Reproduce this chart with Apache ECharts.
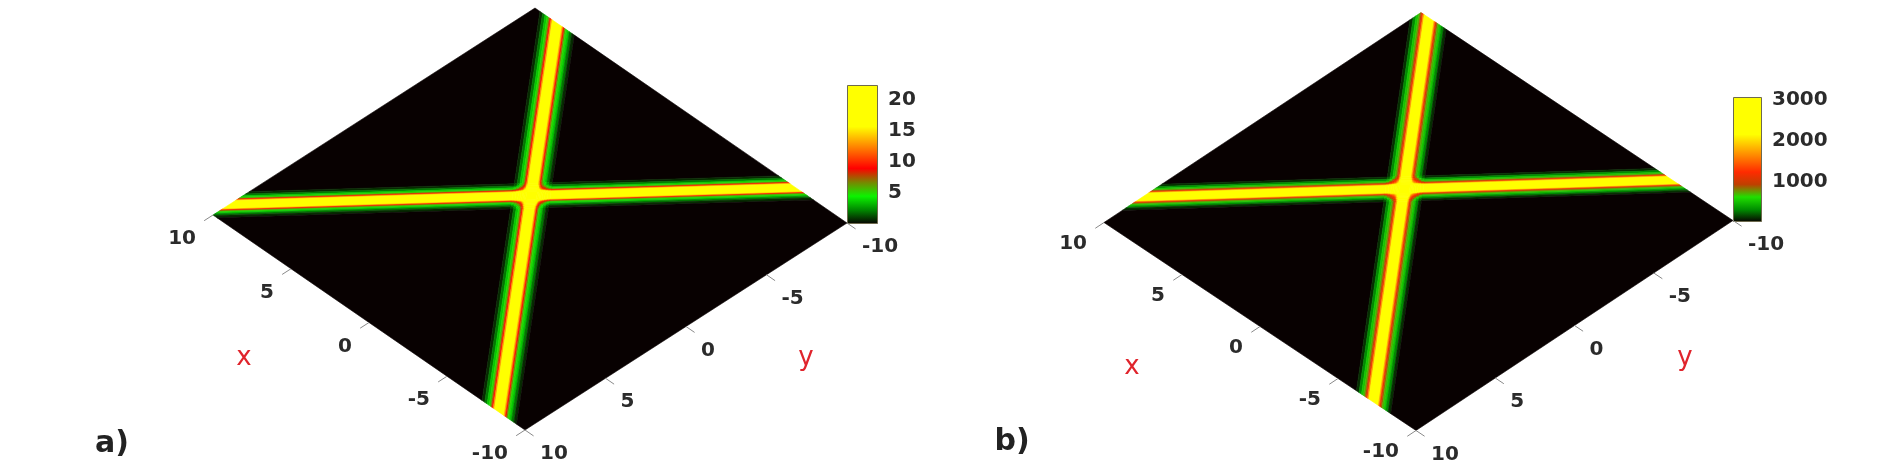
<!DOCTYPE html>
<html>
<head>
<meta charset="utf-8">
<title>Two line intensity maps</title>
<script src="https://cdn.jsdelivr.net/npm/echarts@6/dist/echarts.min.js"></script>
<style>
  html, body { margin: 0; padding: 0; background: #fff; }
  #chart { width: 1883px; height: 471px; filter: blur(0.5px); }
</style>
</head>
<body>
<div id="chart"></div>
<script>
  // tick values of the two slanted axes, same for both panels
  const xTicks = [10, 5, 0, -5, -10]
  const yTicks = [10, 5, 0, -5, -10]

  // colour bar ticks
  const barTicksA = [5, 10, 15, 20]
  const barTicksB = [1000, 2000, 3000]
  const barMaxA = 22.4
  const barMaxB = 3075

  // offsets across each band, in data units
  const columnEdges = [-60, -0.85, -0.72, -0.6, -0.5, -0.42, -0.36, -0.3, -0.24,
    0.24, 0.3, 0.36, 0.42, 0.5, 0.6, 0.72, 0.85, 60]
  const rowEdges = [-60, -0.85, -0.7, -0.58, -0.5, -0.43, -0.38, -0.33, -0.28,
    0.28, 0.33, 0.38, 0.43, 0.5, 0.58, 0.7, 0.85, 60]

  // where the two bands cross and which way they run
  const crossA = [1.07, -1.13]
  const bandOneA = [-0.661, -0.751]
  const bandTwoA = [-0.646, 0.763]
  const crossB = [2.02, -1.1]
  const bandOneB = [-0.676, -0.737]
  const bandTwoB = [-0.642, 0.766]

  // intensity per cell, rows follow the second band offset
  const fieldA = [
    [0, 0.7, 2, 3.6, 5, 6.8, 9.3, 13, 20, 13, 9.3, 6.8, 5, 3.6, 2, 0.7, 0],
    [0.7, 1.4, 2.7, 4.3, 5.7, 7.5, 10, 13.7, 20.7, 13.7, 10, 7.5, 5.7, 4.3, 2.7, 1.4, 0.7],
    [2, 2.7, 4, 5.6, 7, 8.8, 11.3, 15, 22, 15, 11.3, 8.8, 7, 5.6, 4, 2.7, 2],
    [3.6, 4.3, 5.6, 7.2, 8.6, 10.4, 12.9, 16.6, 22, 16.6, 12.9, 10.4, 8.6, 7.2, 5.6, 4.3, 3.6],
    [5, 5.7, 7, 8.6, 10, 11.8, 14.3, 18, 22, 18, 14.3, 11.8, 10, 8.6, 7, 5.7, 5],
    [6.8, 7.5, 8.8, 10.4, 11.8, 13.6, 16.1, 19.8, 22, 19.8, 16.1, 13.6, 11.8, 10.4, 8.8, 7.5, 6.8],
    [9.3, 10, 11.3, 12.9, 14.3, 16.1, 18.6, 22, 22, 22, 18.6, 16.1, 14.3, 12.9, 11.3, 10, 9.3],
    [13, 13.7, 15, 16.6, 18, 19.8, 22, 22, 22, 22, 22, 19.8, 18, 16.6, 15, 13.7, 13],
    [20, 20.7, 22, 22, 22, 22, 22, 22, 22, 22, 22, 22, 22, 22, 22, 20.7, 20],
    [13, 13.7, 15, 16.6, 18, 19.8, 22, 22, 22, 22, 22, 19.8, 18, 16.6, 15, 13.7, 13],
    [9.3, 10, 11.3, 12.9, 14.3, 16.1, 18.6, 22, 22, 22, 18.6, 16.1, 14.3, 12.9, 11.3, 10, 9.3],
    [6.8, 7.5, 8.8, 10.4, 11.8, 13.6, 16.1, 19.8, 22, 19.8, 16.1, 13.6, 11.8, 10.4, 8.8, 7.5, 6.8],
    [5, 5.7, 7, 8.6, 10, 11.8, 14.3, 18, 22, 18, 14.3, 11.8, 10, 8.6, 7, 5.7, 5],
    [3.6, 4.3, 5.6, 7.2, 8.6, 10.4, 12.9, 16.6, 22, 16.6, 12.9, 10.4, 8.6, 7.2, 5.6, 4.3, 3.6],
    [2, 2.7, 4, 5.6, 7, 8.8, 11.3, 15, 22, 15, 11.3, 8.8, 7, 5.6, 4, 2.7, 2],
    [0.7, 1.4, 2.7, 4.3, 5.7, 7.5, 10, 13.7, 20.7, 13.7, 10, 7.5, 5.7, 4.3, 2.7, 1.4, 0.7],
    [0, 0.7, 2, 3.6, 5, 6.8, 9.3, 13, 20, 13, 9.3, 6.8, 5, 3.6, 2, 0.7, 0]
  ]
  const fieldB = [
    [0, 100, 300, 520, 700, 880, 1150, 1700, 2900, 1700, 1150, 880, 700, 520, 300, 100, 0],
    [100, 200, 400, 620, 800, 980, 1250, 1800, 3000, 1800, 1250, 980, 800, 620, 400, 200, 100],
    [300, 400, 600, 820, 1000, 1180, 1450, 2000, 3075, 2000, 1450, 1180, 1000, 820, 600, 400, 300],
    [520, 620, 820, 1040, 1220, 1400, 1670, 2220, 3075, 2220, 1670, 1400, 1220, 1040, 820, 620, 520],
    [700, 800, 1000, 1220, 1400, 1580, 1850, 2400, 3075, 2400, 1850, 1580, 1400, 1220, 1000, 800, 700],
    [880, 980, 1180, 1400, 1580, 1760, 2030, 2580, 3075, 2580, 2030, 1760, 1580, 1400, 1180, 980, 880],
    [1150, 1250, 1450, 1670, 1850, 2030, 2300, 2850, 3075, 2850, 2300, 2030, 1850, 1670, 1450, 1250, 1150],
    [1700, 1800, 2000, 2220, 2400, 2580, 2850, 3075, 3075, 3075, 2850, 2580, 2400, 2220, 2000, 1800, 1700],
    [2900, 3000, 3075, 3075, 3075, 3075, 3075, 3075, 3075, 3075, 3075, 3075, 3075, 3075, 3075, 3000, 2900],
    [1700, 1800, 2000, 2220, 2400, 2580, 2850, 3075, 3075, 3075, 2850, 2580, 2400, 2220, 2000, 1800, 1700],
    [1150, 1250, 1450, 1670, 1850, 2030, 2300, 2850, 3075, 2850, 2300, 2030, 1850, 1670, 1450, 1250, 1150],
    [880, 980, 1180, 1400, 1580, 1760, 2030, 2580, 3075, 2580, 2030, 1760, 1580, 1400, 1180, 980, 880],
    [700, 800, 1000, 1220, 1400, 1580, 1850, 2400, 3075, 2400, 1850, 1580, 1400, 1220, 1000, 800, 700],
    [520, 620, 820, 1040, 1220, 1400, 1670, 2220, 3075, 2220, 1670, 1400, 1220, 1040, 820, 620, 520],
    [300, 400, 600, 820, 1000, 1180, 1450, 2000, 3075, 2000, 1450, 1180, 1000, 820, 600, 400, 300],
    [100, 200, 400, 620, 800, 980, 1250, 1800, 3000, 1800, 1250, 980, 800, 620, 400, 200, 100],
    [0, 100, 300, 520, 700, 880, 1150, 1700, 2900, 1700, 1150, 880, 700, 520, 300, 100, 0]
  ]

  const paletteA = ['#080101', '#008600', '#0cf300', '#798600', '#ff0000', '#ff5500', '#ffaa00', '#ffff00', '#ffff00', '#ffff00', '#ffff00']
  const paletteB = ['#080101', '#008e00', '#20df00', '#bf4000', '#ff2b00', '#ff7100', '#ffb800', '#ffff00', '#ffff00', '#ffff00', '#ffff00']

  // diamond corners on the canvas
  const panelA = {left: [213, 215], top: [535, 8], right: [847, 223], bottom: [525, 430], cross: crossA, one: bandOneA, two: bandTwoA, xLabelDrop: 24}
  const panelB = {left: [1104, 222], top: [1421, 12], right: [1733, 221], bottom: [1416, 430], cross: crossB, one: bandOneB, two: bandTwoB, xLabelDrop: 21}

  function project (panel, x, y) {
    const cx = (panel.left[0] + panel.right[0]) / 2
    const cy = (panel.left[1] + panel.right[1]) / 2
    const ex = [(panel.left[0] - panel.bottom[0]) / 20, (panel.left[1] - panel.bottom[1]) / 20]
    const ey = [(panel.left[0] - panel.top[0]) / 20, (panel.left[1] - panel.top[1]) / 20]
    return [cx + x * ex[0] + y * ey[0], cy + x * ex[1] + y * ey[1]]
  }

  // cut a polygon to the -10..10 square
  function clipToSquare (poly) {
    const planes = [[0, 1, 10], [0, -1, 10], [1, 1, 10], [1, -1, 10]]
    planes.forEach(function (plane) {
      const axis = plane[0]
      const sign = plane[1]
      const lim = plane[2]
      const out = []
      poly.forEach(function (a, k) {
        const b = poly[(k + 1) % poly.length]
        const da = lim - sign * a[axis]
        const db = lim - sign * b[axis]
        if (da >= 0) out.push(a)
        if ((da >= 0) !== (db >= 0)) {
          const t = da / (da - db)
          out.push([a[0] + (b[0] - a[0]) * t, a[1] + (b[1] - a[1]) * t])
        }
      })
      poly = out
    })
    return poly
  }

  function cellData (field) {
    const rows = []
    field.forEach(function (row, j) {
      row.forEach(function (v, i) {
        rows.push([i, j, v])
      })
    })
    return rows
  }

  function cellSeries (panel, field) {
    return {
      type: 'custom',
      xAxisIndex: 0,
      yAxisIndex: 0,
      silent: true,
      data: cellData(field),
      renderItem: function (params, api) {
        const i = api.value(0)
        const j = api.value(1)
        const corner = function (p, q) {
          return [
            panel.cross[0] + p * panel.one[0] + q * panel.two[0],
            panel.cross[1] + p * panel.one[1] + q * panel.two[1]
          ]
        }
        const poly = clipToSquare([
          corner(columnEdges[i], rowEdges[j]),
          corner(columnEdges[i + 1], rowEdges[j]),
          corner(columnEdges[i + 1], rowEdges[j + 1]),
          corner(columnEdges[i], rowEdges[j + 1])
        ])
        if (poly.length < 3) return null
        const color = api.visual('color')
        return {
          type: 'polygon',
          shape: {
            points: poly.map(function (d) {
              return api.coord(project(panel, d[0], d[1]))
            })
          },
          style: {fill: color, stroke: color, lineWidth: 0.6}
        }
      }
    }
  }

  function tickSeries (panel) {
    const rows = xTicks.map(function (v) { return [v, 0] }).concat(yTicks.map(function (v) { return [v, 1] }))
    return {
      type: 'custom',
      xAxisIndex: 0,
      yAxisIndex: 0,
      silent: true,
      z: 3,
      data: rows,
      renderItem: function (params, api) {
        const v = api.value(0)
        const isY = api.value(1) === 1
        const from = api.coord(isY ? project(panel, -10, v) : project(panel, v, 10))
        const to = api.coord(isY ? project(panel, -10.55, v) : project(panel, v, 10.55))
        return {
          type: 'group',
          children: [{
            type: 'line',
            shape: {x1: from[0], y1: from[1], x2: to[0], y2: to[1]},
            style: {stroke: '#8a8a8a', lineWidth: 1}
          }, {
            type: 'text',
            style: {
              text: String(v),
              x: from[0] + (isY ? 15 : -17),
              y: from[1] + (isY ? 24 : panel.xLabelDrop),
              align: isY ? 'left' : 'right',
              verticalAlign: 'middle',
              font: 'bold 20px "DejaVu Sans"',
              fill: '#2b2b2b'
            }
          }]
        }
      }
    }
  }

  function barGradient (palette) {
    const stops = palette.map(function (c, k) {
      return {offset: 1 - k / (palette.length - 1), color: c}
    }).reverse()
    return new echarts.graphic.LinearGradient(0, 0, 0, 1, stops)
  }

  function barSeries (index, max, palette) {
    return {
      type: 'bar',
      xAxisIndex: index,
      yAxisIndex: index,
      barWidth: '100%',
      silent: true,
      data: [max],
      itemStyle: {color: barGradient(palette), borderColor: '#6e6a4e', borderWidth: 1}
    }
  }

  function barAxis (index, max, ticks) {
    return {
      gridIndex: index,
      type: 'value',
      position: 'right',
      min: 0,
      max: max,
      splitLine: {show: false},
      axisLine: {show: false},
      axisTick: {show: true, inside: true, length: 2, customValues: ticks, lineStyle: {color: '#6e6a4e'}},
      axisLabel: {
        customValues: ticks,
        margin: 10,
        fontFamily: 'DejaVu Sans',
        fontWeight: 'bold',
        fontSize: 20,
        color: '#2b2b2b',
        formatter: function (v) { return String(v) }
      }
    }
  }

  function note (text, x, y, font, color) {
    return {
      type: 'text',
      x: x,
      y: y,
      style: {text: text, font: font, fill: color, align: 'center', verticalAlign: 'middle'}
    }
  }

  const nameFont = '26px "DejaVu Sans"'
  const panelFont = 'bold 30px "DejaVu Sans"'

  const chart = echarts.init(document.getElementById('chart'))
  chart.setOption({
    animation: false,
    backgroundColor: '#fff',
    grid: [
      {left: 0, top: 0, right: 0, bottom: 0},
      {left: 847, top: 85, width: 31, height: 139},
      {left: 1733, top: 97, width: 29, height: 125}
    ],
    xAxis: [
      {gridIndex: 0, type: 'value', min: 0, max: 1883, show: false},
      {gridIndex: 1, type: 'category', data: [''], show: false},
      {gridIndex: 2, type: 'category', data: [''], show: false}
    ],
    yAxis: [
      {gridIndex: 0, type: 'value', min: 0, max: 471, inverse: true, show: false},
      barAxis(1, barMaxA, barTicksA),
      barAxis(2, barMaxB, barTicksB)
    ],
    visualMap: [
      {type: 'continuous', show: false, seriesIndex: 0, dimension: 2, min: 0, max: barMaxA, inRange: {color: paletteA}},
      {type: 'continuous', show: false, seriesIndex: 1, dimension: 2, min: 0, max: barMaxB, inRange: {color: paletteB}}
    ],
    series: [
      cellSeries(panelA, fieldA),
      cellSeries(panelB, fieldB),
      tickSeries(panelA),
      tickSeries(panelB),
      barSeries(1, barMaxA, paletteA),
      barSeries(2, barMaxB, paletteB)
    ],
    graphic: [
      note('x', 244, 358, nameFont, '#e0242c'),
      note('y', 806, 358, nameFont, '#e0242c'),
      note('x', 1132, 367, nameFont, '#e0242c'),
      note('y', 1685, 358, nameFont, '#e0242c'),
      note('a)', 112, 444, panelFont, '#222'),
      note('b)', 1012, 442, panelFont, '#222')
    ]
  })
</script>
</body>
</html>
